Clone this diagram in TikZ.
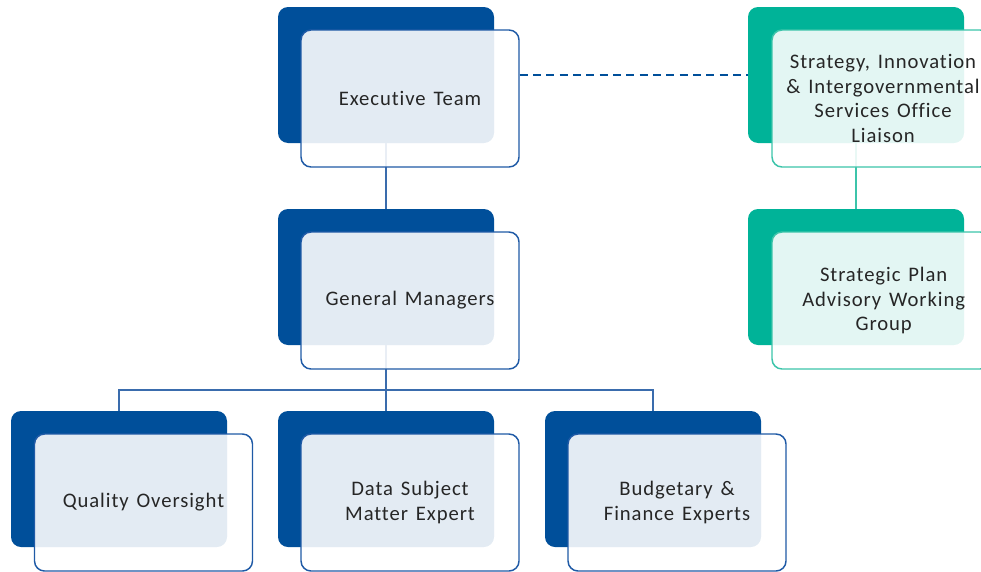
\documentclass[tikz,border=0pt]{standalone}
\usepackage{fontspec}
\setmainfont{Carlito}[LetterSpace=4.5,WordSpace=1.4,RawFeature={-liga;-clig;-dlig}]
\definecolor{dkblue}{HTML}{004F9A}
\definecolor{bluebord}{HTML}{1F5AA6}
\definecolor{bluelink}{HTML}{3A6CAD}
\definecolor{teal}{HTML}{00B398}
\definecolor{tealbord}{HTML}{3CC4AA}
\begin{document}
\begin{tikzpicture}[x=0.75pt,y=-0.75pt,
  backcard/.style={fill=#1, draw=none, rounded corners=7.5pt, minimum width=162pt, minimum height=102pt, inner sep=0pt},
  frontcard/.style={draw=#1, line width=1.1pt, fill=white, fill opacity=0.89, text opacity=1, rounded corners=7.5pt,
    minimum width=163.5pt, minimum height=102.75pt, inner sep=2pt, align=center,
    font=\fontsize{15.5}{18.5}\selectfont, text=black!85},
  link/.style={draw=bluelink, line width=1.2pt},
  tlink/.style={draw=tealbord, line width=1.1pt},
  dlink/.style={draw=dkblue, line width=1.4pt, dash pattern=on 6pt off 4pt}]
\useasboundingbox (0,0) rectangle (981,571);
\clip (0,0) rectangle (981,571);
% back cards
\node[backcard=dkblue] (exB) at (386,75) {};
\node[backcard=dkblue] (gmB) at (386,277) {};
\node[backcard=dkblue] (qoB) at (119,479) {};
\node[backcard=dkblue] (dsB) at (386,479) {};
\node[backcard=dkblue] (bfB) at (653,479) {};
\node[backcard=teal] (siB) at (856,75) {};
\node[backcard=teal] (spB) at (856,277) {};
% connectors
\draw[link] (exB.south) -- (gmB.north);
\draw[link] (gmB.south) -- (dsB.north);
\coordinate (bus) at (386,390);
\draw[link] (qoB.north) |- (bus) -| (bfB.north);
\draw[tlink] (siB.south) -- (spB.north);
% front cards
\node[frontcard=bluebord] (ex) at (410,98.5) {Executive Team};
\node[frontcard=bluebord] (gm) at (410,300.5) {General Managers};
\node[frontcard=bluebord] (qo) at (143.5,502.5) {Quality Oversight};
\node[frontcard=bluebord] (ds) at (410,502.5) {Data Subject\\Matter Expert};
\node[frontcard=bluebord] (bf) at (677,502.5) {Budgetary \&\\Finance Experts};
\node[frontcard=tealbord] (si) at (881,98.5) {\hspace*{3pt}Strategy, Innovation\\\hspace*{3pt}\& Intergovernmental\\\hspace*{3pt}Services Office\\\hspace*{3pt}Liaison};
\node[frontcard=tealbord] (sp) at (881,300.5) {\hspace*{4pt}Strategic Plan\\\hspace*{4pt}Advisory Working\\\hspace*{4pt}Group};
\draw[dlink] (exB -| ex.east) -- (siB.west);
\end{tikzpicture}
\end{document}
